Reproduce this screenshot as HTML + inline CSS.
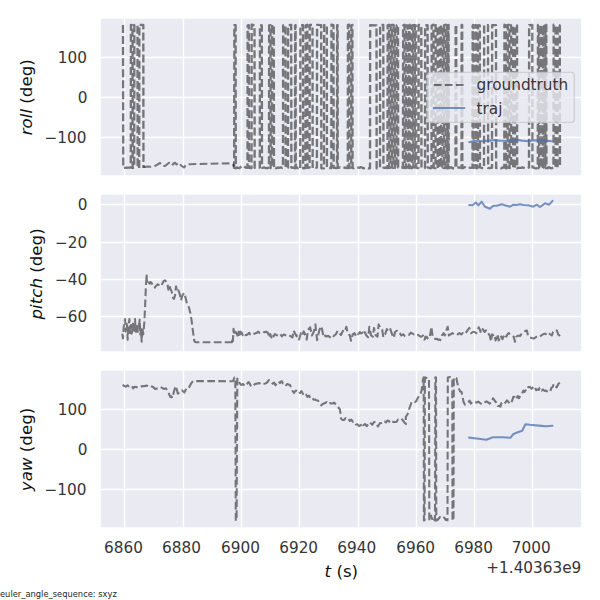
<!DOCTYPE html>
<html><head><meta charset="utf-8"><title>euler angles</title>
<style>html,body{margin:0;padding:0;background:#fff;width:600px;height:600px;overflow:hidden}svg{display:block}</style>
</head><body>
<svg width="600" height="600" viewBox="0 0 432 432" version="1.1">
 
 <defs>
  <style type="text/css">*{stroke-linejoin: round; stroke-linecap: butt}</style>
 </defs>
 <g id="figure_1">
  <g id="patch_1">
   <path d="M 0 432 
L 432 432 
L 432 0 
L 0 0 
z
" style="fill: #ffffff"/>
  </g>
  <g id="axes_1">
   <g id="patch_2">
    <path d="M 72.0000 126.7200 L 419.0400 126.7200 L 419.0400 12.9600 L 72.0000 12.9600 z" style="fill: #eaeaf2"/>
   </g>
   <g id="matplotlib.axis_1">
    <g id="xtick_1">
     <g id="line2d_1">
      <path d="M 89.6400 127.0800 L 89.6400 13.3200" clip-path="url(#p0188f3a71f)" style="fill: none; stroke: #ffffff; stroke-linecap: round"/>
     </g>
    </g>
    <g id="xtick_2">
     <g id="line2d_2">
      <path d="M 132.1200 127.0800 L 132.1200 13.3200" clip-path="url(#p0188f3a71f)" style="fill: none; stroke: #ffffff; stroke-linecap: round"/>
     </g>
    </g>
    <g id="xtick_3">
     <g id="line2d_3">
      <path d="M 173.8800 127.0800 L 173.8800 13.3200" clip-path="url(#p0188f3a71f)" style="fill: none; stroke: #ffffff; stroke-linecap: round"/>
     </g>
    </g>
    <g id="xtick_4">
     <g id="line2d_4">
      <path d="M 215.6400 127.0800 L 215.6400 13.3200" clip-path="url(#p0188f3a71f)" style="fill: none; stroke: #ffffff; stroke-linecap: round"/>
     </g>
    </g>
    <g id="xtick_5">
     <g id="line2d_5">
      <path d="M 258.1200 127.0800 L 258.1200 13.3200" clip-path="url(#p0188f3a71f)" style="fill: none; stroke: #ffffff; stroke-linecap: round"/>
     </g>
    </g>
    <g id="xtick_6">
     <g id="line2d_6">
      <path d="M 299.8800 127.0800 L 299.8800 13.3200" clip-path="url(#p0188f3a71f)" style="fill: none; stroke: #ffffff; stroke-linecap: round"/>
     </g>
    </g>
    <g id="xtick_7">
     <g id="line2d_7">
      <path d="M 341.6400 127.0800 L 341.6400 13.3200" clip-path="url(#p0188f3a71f)" style="fill: none; stroke: #ffffff; stroke-linecap: round"/>
     </g>
    </g>
    <g id="xtick_8">
     <g id="line2d_8">
      <path d="M 383.4000 127.0800 L 383.4000 13.3200" clip-path="url(#p0188f3a71f)" style="fill: none; stroke: #ffffff; stroke-linecap: round"/>
     </g>
    </g>
   </g>
   <g id="matplotlib.axis_2">
    <g id="ytick_1">
     <g id="line2d_9">
      <path d="M 72.3600 99.0000 L 419.4000 99.0000" clip-path="url(#p0188f3a71f)" style="fill: none; stroke: #ffffff; stroke-linecap: round"/>
     </g>
     <g id="text_1">
      <text style="font-size: 11px; font-family: 'DejaVu Sans', sans-serif; text-anchor: end; fill: #363636" x="62.2372" y="102.8191">−100</text>
     </g>
    </g>
    <g id="ytick_2">
     <g id="line2d_10">
      <path d="M 72.3600 70.2000 L 419.4000 70.2000" clip-path="url(#p0188f3a71f)" style="fill: none; stroke: #ffffff; stroke-linecap: round"/>
     </g>
     <g id="text_2">
      <text style="font-size: 11px; font-family: 'DejaVu Sans', sans-serif; text-anchor: end; fill: #363636" x="63.0580" y="74.0191">0</text>
     </g>
    </g>
    <g id="ytick_3">
     <g id="line2d_11">
      <path d="M 72.3600 41.4000 L 419.4000 41.4000" clip-path="url(#p0188f3a71f)" style="fill: none; stroke: #ffffff; stroke-linecap: round"/>
     </g>
     <g id="text_3">
      <text style="font-size: 11px; font-family: 'DejaVu Sans', sans-serif; text-anchor: end; fill: #363636" x="62.6404" y="45.2191">100</text>
     </g>
    </g>
    <g id="text_4">
     <!-- $roll$ (deg) -->
     <g style="fill: #262626" transform="translate(23.9985 97.4052) rotate(-90)">
      <text>
       <tspan x="0" y="-0.875" style="font-style: oblique; font-size: 12px; font-family: 'DejaVu Sans'; fill: #101010">r</tspan>
       <tspan x="4.933594" y="-0.875" style="font-style: oblique; font-size: 12px; font-family: 'DejaVu Sans'; fill: #101010">o</tspan>
       <tspan x="12.275391" y="-0.875" style="font-style: oblique; font-size: 12px; font-family: 'DejaVu Sans'; fill: #101010">l</tspan>
       <tspan x="15.609375" y="-0.875" style="font-style: oblique; font-size: 12px; font-family: 'DejaVu Sans'; fill: #101010">l</tspan>
       <tspan x="18.943359" y="-0.875" style="font-size: 12px; font-family: 'DejaVu Sans'; fill: #101010"> </tspan>
       <tspan x="22.757812" y="-0.875" style="font-size: 12px; font-family: 'DejaVu Sans'; fill: #101010">(</tspan>
       <tspan x="27.439453" y="-0.875" style="font-size: 12px; font-family: 'DejaVu Sans'; fill: #101010">d</tspan>
       <tspan x="35.056641" y="-0.875" style="font-size: 12px; font-family: 'DejaVu Sans'; fill: #101010">e</tspan>
       <tspan x="42.439453" y="-0.875" style="font-size: 12px; font-family: 'DejaVu Sans'; fill: #101010">g</tspan>
       <tspan x="50.056641" y="-0.875" style="font-size: 12px; font-family: 'DejaVu Sans'; fill: #101010">)</tspan>
      </text>
     </g>
    </g>
   </g>
   <g id="rollA">
    <path d="M 88.56 18 
L 88.776 120.888 
L 94.176 120.589667 
L 94.284 17.920403 
L 95.4 18.245534 
L 95.508 120.947157 
L 96.624 120.595773 
L 96.732 18.033481 
L 99 18.059934 
L 99.108 120.643012 
L 100.224 121.056896 
L 100.332 17.849475 
L 103.176 18.009347 
L 103.284 120.900053 
" clip-path="url(#p0188f3a71f)" style="fill: none; stroke-dasharray: 5.75,2.2; stroke-dashoffset: 0; stroke: #000000; stroke-opacity: 0.5; stroke-width: 1.7; stroke-linecap: butt"/>
   </g>
   <g id="rollB">
    <path d="M 103.32 120.024 
L 104.4 120.168 
L 105.84 119.88 
L 108 120.096 
L 109.44 119.952 
L 110.88 119.736 
L 112.32 119.16 
L 114.12 117.936 
L 115.2 117.36 
L 116.28 118.44 
L 117.36 119.52 
L 118.8 119.52 
L 120.6 118.08 
L 121.68 117.216 
L 122.976 118.44 
L 123.84 119.16 
L 124.92 117.72 
L 126 117.216 
L 127.08 118.44 
L 128.16 117.576 
L 129.24 117.36 
L 130.32 119.16 
L 131.4 119.88 
L 132.48 120.6 
L 133.56 119.16 
L 134.64 118.44 
L 136.8 118.224 
L 166.32 117.576 
L 167.76 118.44 
L 168.336 119.88 
" clip-path="url(#p0188f3a71f)" style="fill: none; stroke-dasharray: 5.55,2.4; stroke-dashoffset: 0; stroke: #000000; stroke-opacity: 0.5; stroke-width: 1.5"/>
   </g>
   <g id="rollC">
    <path d="M 168.336 119.88 
L 168.624 120.838052 
L 168.732 18.121996 
L 169.632 18.208995 
L 169.74 121.216512 
L 170.352 120.578012 
L 171.432 120.91904 
L 172.512 120.963658 
L 173.592 120.10372 
L 174.672 119.479467 
L 175.752 119.680314 
L 176.832 120.588607 
L 178.2 120.75407 
L 178.308 18.297626 
L 179.136 18.121054 
L 179.244 120.867343 
L 181.08 121.084759 
L 181.188 17.801479 
L 183.24 18.191212 
L 183.348 120.797456 
L 187.056 120.593414 
L 187.164 18.164448 
L 188.496 18.320523 
L 188.604 120.677178 
L 189.216 120.901764 
L 190.296 120.591081 
L 191.376 121.006284 
L 192.456 120.987946 
L 193.68 120.685475 
L 193.788 18.262015 
L 194.76 18.162808 
L 194.868 121.019615 
L 195.84 121.118455 
L 195.948 18.030858 
L 197.136 18.221014 
L 197.244 121.160506 
L 197.856 120.407771 
L 198.936 121.107383 
L 200.016 120.680716 
L 201.096 120.760984 
L 202.176 120.448969 
L 203.256 120.965727 
L 203.76 120.738225 
L 203.868 18.285776 
L 205.56 17.942616 
L 205.668 120.932503 
L 207.36 120.815752 
L 207.468 18.137036 
L 209.664 17.897264 
L 209.772 120.657807 
L 212.4 121.065739 
L 212.508 18.217281 
L 212.832 18.110579 
L 212.94 121.191177 
L 213.552 120.504605 
L 214.632 121.108443 
L 215.712 120.470172 
L 216.144 121.222338 
L 216.252 18.143247 
L 218.16 18.133565 
L 218.268 121.226802 
L 219.96 121.094664 
L 220.068 18.238992 
L 221.256 17.815158 
L 221.364 120.793886 
L 222.912 120.589124 
L 223.02 17.895472 
L 225 17.907187 
L 225.108 121.146222 
L 228.168 120.619264 
L 228.276 17.954932 
L 231.264 18.06788 
L 231.372 121.139611 
L 233.28 121.222967 
L 233.388 18.191891 
L 235.296 17.907084 
L 235.404 120.920388 
L 238.536 121.036291 
L 238.644 17.813884 
L 240.12 18.175613 
L 240.228 120.793163 
L 242.64 120.952584 
L 242.748 18.169651 
L 243.072 18.169417 
L 243.18 120.904596 
L 243.792 120.831234 
L 244.872 120.497468 
L 245.952 120.775495 
L 247.032 120.429383 
L 248.112 120.761979 
L 249.192 120.813925 
L 250.416 121.085355 
L 250.524 18.010751 
L 251.424 17.79529 
L 251.532 120.90798 
L 252.864 120.675767 
L 252.972 18.210964 
L 253.728 18.00789 
L 253.836 120.801941 
L 254.448 121.163249 
L 255.528 120.67982 
L 257.688 120.637746 
L 258.768 120.761997 
L 259.848 120.399321 
L 262.008 121.174456 
L 263.088 120.838895 
L 265.248 121.198524 
L 266.4 121.134323 
L 266.508 18.212548 
L 271.08 18.252382 
L 271.188 121.1185 
L 273.6 120.710704 
L 273.708 18.061611 
L 275.976 17.981405 
L 276.084 120.716448 
L 276.696 120.846972 
L 277.776 120.609541 
L 279 120.973433 
L 279.108 18.119472 
L 280.08 17.844134 
L 280.188 120.846541 
L 281.16 120.808696 
L 281.268 18.191032 
L 282.24 17.834765 
L 282.348 120.64965 
L 283.32 120.89707 
L 283.428 18.017046 
L 284.4 18.16724 
L 284.508 120.767657 
L 285.48 120.669998 
L 285.588 18.320743 
L 286.559999 17.924484 
L 286.668 120.633886 
L 287.28 120.573981 
L 288.36 120.629982 
L 289.44 120.522709 
L 290.16 120.914148 
L 290.268 18.323674 
L 291.24 17.856587 
L 291.348 120.826919 
L 292.32 121.009073 
L 292.427999 18.293596 
L 293.4 18.359887 
L 293.508 120.631419 
L 294.48 120.914854 
L 294.588 18.291572 
L 295.056 17.814545 
L 295.164 120.951571 
L 295.776 120.474781 
L 296.64 121.080838 
L 296.748 18.324075 
L 297.576 18.094054 
L 297.684 120.534456 
L 298.584 120.57426 
L 298.692 18.023444 
L 299.52 18.272047 
L 299.628 120.698472 
L 300.24 120.938313 
L 301.32 120.819822 
L 301.428 17.936729 
L 303.336 18.18944 
L 303.444 120.749945 
L 304.056 120.660081 
L 305.136 121.02833 
L 306 120.884544 
L 306.108 18.235537 
L 307.872 18.081389 
L 307.98 120.64318 
L 308.592 120.727301 
L 309.672 121.128908 
L 310.68 120.934741 
L 310.788 18.339734 
L 312.12 17.784661 
L 312.228 120.773064 
L 313.56 121.081716 
L 313.668 18.179223 
L 315 18.107124 
L 315.108 121.005895 
L 315.72 121.132339 
L 316.44 121.020157 
L 316.548 18.099204 
L 317.52 18.107982 
L 317.628 121.007791 
L 318.6 120.761217 
L 318.708 18.169595 
L 319.68 18.138245 
L 319.788 121.093856 
L 320.76 120.873762 
L 320.868 17.799557 
L 321.84 18.093267 
L 321.948 121.145536 
L 322.56 120.988814 
L 322.668 18.15464 
L 322.992 18.009187 
L 323.1 120.784731 
L 323.712 120.984897 
L 324.792 120.3848 
L 325.872 121.122987 
L 327.96 121.22096 
L 328.068 17.86215 
L 328.464 17.850457 
L 328.572 121.171696 
L 329.184 120.687453 
L 330.263999 120.565058 
L 331.344 120.669753 
L 332.28 121.002843 
L 332.388 17.87702 
L 332.784 18.064606 
L 332.892 121.003237 
L 333.504 120.986643 
L 334.584 120.323478 
L 335.664 121.070999 
L 336.744 120.718392 
L 337.824 120.719908 
L 338.904 120.83837 
L 340.2 120.729698 
L 340.308 18.294752 
L 340.92 17.90619 
L 341.028 120.918756 
L 342 120.64899 
L 342.108 18.138883 
L 343.08 18.303498 
L 343.188 121.163498 
L 344.16 120.62497 
L 344.268 18.143924 
L 345.456 18.29811 
L 345.564 120.672198 
L 346.176 120.700198 
L 347.256 120.979513 
L 348.48 121.059434 
L 348.588 18.043878 
L 351.36 18.151844 
L 351.468 121.009622 
L 354.24 120.782248 
L 354.348 18.159594 
L 357.12 18.116595 
L 357.228 121.030118 
L 357.84 120.7909 
L 358.92 120.626899 
L 360 120.7186 
L 361.08 121.175424 
L 362.16 120.487552 
L 363.096 120.634778 
L 363.204 17.791 
L 364.32 18.274836 
L 364.428 121.239827 
L 365.544 120.698256 
L 365.652 17.937272 
L 366.768 17.898262 
L 366.876 120.960139 
L 367.92 120.877278 
L 368.028 18.256652 
L 369.36 17.90479 
L 369.468 121.160114 
L 370.8 120.862045 
L 370.908 18.249331 
L 372.24 18.245998 
L 372.348 121.18374 
L 372.96 120.778889 
L 374.04 120.882589 
L 375.12 120.837125 
L 376.2 120.490123 
L 378.36 121.179316 
L 379.44 121.162729 
L 380.88 120.543483 
L 380.988 18.166093 
L 383.256 17.97222 
L 383.364 120.625876 
L 383.976 120.442516 
L 385.056 121.056084 
L 386.136 121.209779 
L 387.216 120.902573 
L 387.324 18.004908 
L 388.08 18.077695 
L 388.188 121.125091 
L 389.016 121.065655 
L 389.124 17.820933 
L 389.88 17.906417 
L 389.988 121.152747 
L 390.816 120.883018 
L 390.924 18.162851 
L 391.68 18.231853 
L 391.788 120.98635 
L 392.616 121.056404 
L 392.724 18.09829 
L 393.336 17.916093 
L 393.444 120.662708 
L 394.056 121.241952 
L 395.136 120.321835 
L 396.216 120.958694 
L 397.296 121.136292 
L 398.52 120.694614 
L 398.628 17.811959 
L 399.96 18.013966 
L 400.068 120.76557 
L 401.4 120.860344 
L 401.508 18.030192 
L 403.056 18.326606 
L 403.164 120.613915 
L 403.164 120.613915 
" clip-path="url(#p0188f3a71f)" style="fill: none; stroke-dasharray: 5.75,2.2; stroke-dashoffset: 0; stroke: #000000; stroke-opacity: 0.5; stroke-width: 1.7; stroke-linecap: butt"/>
   </g>
   <g id="line2d_12">
    <path d="M 337.824 102.384 
L 342 101.376 
L 345.6 101.664 
L 349.2 101.52 
L 352.8 101.232 
L 356.4 100.8 
L 359.28 101.232 
L 362.376 101.376 
L 367.2 101.736 
L 372.024 100.584 
L 375.84 101.232 
L 380.376 101.664 
L 385.2 101.016 
L 388.8 101.232 
L 391.176 101.16 
L 394.56 101.448 
L 397.224 101.664 
" clip-path="url(#p0188f3a71f)" style="fill: none; stroke: #4c72b0; stroke-opacity: 0.75; stroke-width: 1.5; stroke-linecap: round"/>
   </g>
   <g id="patch_3">
    <path d="M 72.0000 126.7200 L 72.0000 12.9600" style="fill: none; stroke: #ffffff; stroke-width: 1.25; stroke-linejoin: miter; stroke-linecap: square"/>
   </g>
   <g id="patch_4">
    <path d="M 419.0400 126.7200 L 419.0400 12.9600" style="fill: none; stroke: #ffffff; stroke-width: 1.25; stroke-linejoin: miter; stroke-linecap: square"/>
   </g>
   <g id="patch_5">
    <path d="M 72.0000 126.7200 L 419.0400 126.7200" style="fill: none; stroke: #ffffff; stroke-width: 1.25; stroke-linejoin: miter; stroke-linecap: square"/>
   </g>
   <g id="patch_6">
    <path d="M 72.0000 12.9600 L 419.0400 12.9600" style="fill: none; stroke: #ffffff; stroke-width: 1.25; stroke-linejoin: miter; stroke-linecap: square"/>
   </g>
   <g id="legend_1">
    <g id="patch_7">
     <path d="M 310.136562 88.0979 
L 411.34 88.0979 
Q 413.54 88.0979 413.54 85.8979 
L 413.54 54.3461 
Q 413.54 52.1461 411.34 52.1461 
L 310.136562 52.1461 
Q 307.936562 52.1461 307.936562 54.3461 
L 307.936562 85.8979 
Q 307.936562 88.0979 310.136562 88.0979 
z
" style="fill: #eaeaf2; opacity: 0.8; stroke: #cccccc; stroke-linejoin: miter"/>
    </g>
    <g id="line2d_13">
     <path d="M 312.336562 61.1983 
L 323.336562 61.1983 
L 334.336562 61.1983 
" style="fill: none; stroke-dasharray: 5.55,2.4; stroke-dashoffset: 0; stroke: #000000; stroke-opacity: 0.5; stroke-width: 1.5"/>
    </g>
    <g id="text_5">
     <text style="font-size: 11px; font-family: 'DejaVu Sans', sans-serif; text-anchor: start; fill: #363636" x="343.136562" y="64.832344" transform="rotate(-0 343.136562 64.832344)">groundtruth</text>
    </g>
    <g id="line2d_14">
     <path d="M 312.336562 77.7619 
L 323.336562 77.7619 
L 334.336562 77.7619 
" style="fill: none; stroke: #4c72b0; stroke-opacity: 0.75; stroke-width: 1.5; stroke-linecap: round"/>
    </g>
    <g id="text_6">
     <text style="font-size: 11px; font-family: 'DejaVu Sans', sans-serif; text-anchor: start; fill: #363636" x="343.1366" y="81.8135">traj</text>
    </g>
   </g>
  </g>
  <g id="axes_2">
   <g id="patch_8">
    <path d="M 72.0000 253.4400 L 419.0400 253.4400 L 419.0400 139.6800 L 72.0000 139.6800 z" style="fill: #eaeaf2"/>
   </g>
   <g id="matplotlib.axis_3">
    <g id="xtick_9">
     <g id="line2d_15">
      <path d="M 89.6400 253.8000 L 89.6400 140.0400" clip-path="url(#p8dc14f813e)" style="fill: none; stroke: #ffffff; stroke-linecap: round"/>
     </g>
    </g>
    <g id="xtick_10">
     <g id="line2d_16">
      <path d="M 132.1200 253.8000 L 132.1200 140.0400" clip-path="url(#p8dc14f813e)" style="fill: none; stroke: #ffffff; stroke-linecap: round"/>
     </g>
    </g>
    <g id="xtick_11">
     <g id="line2d_17">
      <path d="M 173.8800 253.8000 L 173.8800 140.0400" clip-path="url(#p8dc14f813e)" style="fill: none; stroke: #ffffff; stroke-linecap: round"/>
     </g>
    </g>
    <g id="xtick_12">
     <g id="line2d_18">
      <path d="M 215.6400 253.8000 L 215.6400 140.0400" clip-path="url(#p8dc14f813e)" style="fill: none; stroke: #ffffff; stroke-linecap: round"/>
     </g>
    </g>
    <g id="xtick_13">
     <g id="line2d_19">
      <path d="M 258.1200 253.8000 L 258.1200 140.0400" clip-path="url(#p8dc14f813e)" style="fill: none; stroke: #ffffff; stroke-linecap: round"/>
     </g>
    </g>
    <g id="xtick_14">
     <g id="line2d_20">
      <path d="M 299.8800 253.8000 L 299.8800 140.0400" clip-path="url(#p8dc14f813e)" style="fill: none; stroke: #ffffff; stroke-linecap: round"/>
     </g>
    </g>
    <g id="xtick_15">
     <g id="line2d_21">
      <path d="M 341.6400 253.8000 L 341.6400 140.0400" clip-path="url(#p8dc14f813e)" style="fill: none; stroke: #ffffff; stroke-linecap: round"/>
     </g>
    </g>
    <g id="xtick_16">
     <g id="line2d_22">
      <path d="M 383.4000 253.8000 L 383.4000 140.0400" clip-path="url(#p8dc14f813e)" style="fill: none; stroke: #ffffff; stroke-linecap: round"/>
     </g>
    </g>
   </g>
   <g id="matplotlib.axis_4">
    <g id="ytick_4">
     <g id="line2d_23">
      <path d="M 72.3600 227.8800 L 419.4000 227.8800" clip-path="url(#p8dc14f813e)" style="fill: none; stroke: #ffffff; stroke-linecap: round"/>
     </g>
     <g id="text_7">
      <text style="font-size: 11px; font-family: 'DejaVu Sans', sans-serif; text-anchor: end; fill: #363636" x="62.77" y="231.972741" transform="rotate(-0 62.77 231.972741)">−60</text>
     </g>
    </g>
    <g id="ytick_5">
     <g id="line2d_24">
      <path d="M 72.3600 201.2400 L 419.4000 201.2400" clip-path="url(#p8dc14f813e)" style="fill: none; stroke: #ffffff; stroke-linecap: round"/>
     </g>
     <g id="text_8">
      <text style="font-size: 11px; font-family: 'DejaVu Sans', sans-serif; text-anchor: end; fill: #363636" x="62.77" y="205.073541" transform="rotate(-0 62.77 205.073541)">−40</text>
     </g>
    </g>
    <g id="ytick_6">
     <g id="line2d_25">
      <path d="M 72.3600 174.6000 L 419.4000 174.6000" clip-path="url(#p8dc14f813e)" style="fill: none; stroke: #ffffff; stroke-linecap: round"/>
     </g>
     <g id="text_9">
      <text style="font-size: 11px; font-family: 'DejaVu Sans', sans-serif; text-anchor: end; fill: #363636" x="62.7700" y="178.8943">−20</text>
     </g>
    </g>
    <g id="ytick_7">
     <g id="line2d_26">
      <path d="M 72.3600 147.2400 L 419.4000 147.2400" clip-path="url(#p8dc14f813e)" style="fill: none; stroke: #ffffff; stroke-linecap: round"/>
     </g>
     <g id="text_10">
      <text style="font-size: 11px; font-family: 'DejaVu Sans', sans-serif; text-anchor: end; fill: #363636" x="63.0580" y="151.2751">0</text>
     </g>
    </g>
    <g id="text_11">
     <!-- $pitch$ (deg) -->
     <g style="fill: #262626" transform="translate(31.4220 230.0268) rotate(-90)">
      <text>
       <tspan x="0" y="-0.875" style="font-style: oblique; font-size: 12px; font-family: 'DejaVu Sans'; fill: #101010">p</tspan>
       <tspan x="7.617188" y="-0.875" style="font-style: oblique; font-size: 12px; font-family: 'DejaVu Sans'; fill: #101010">i</tspan>
       <tspan x="10.951172" y="-0.875" style="font-style: oblique; font-size: 12px; font-family: 'DejaVu Sans'; fill: #101010">t</tspan>
       <tspan x="15.65625" y="-0.875" style="font-style: oblique; font-size: 12px; font-family: 'DejaVu Sans'; fill: #101010">c</tspan>
       <tspan x="22.253906" y="-0.875" style="font-style: oblique; font-size: 12px; font-family: 'DejaVu Sans'; fill: #101010">h</tspan>
       <tspan x="29.859375" y="-0.875" style="font-size: 12px; font-family: 'DejaVu Sans'; fill: #101010"> </tspan>
       <tspan x="33.673828" y="-0.875" style="font-size: 12px; font-family: 'DejaVu Sans'; fill: #101010">(</tspan>
       <tspan x="38.355469" y="-0.875" style="font-size: 12px; font-family: 'DejaVu Sans'; fill: #101010">d</tspan>
       <tspan x="45.972656" y="-0.875" style="font-size: 12px; font-family: 'DejaVu Sans'; fill: #101010">e</tspan>
       <tspan x="53.355469" y="-0.875" style="font-size: 12px; font-family: 'DejaVu Sans'; fill: #101010">g</tspan>
       <tspan x="60.972656" y="-0.875" style="font-size: 12px; font-family: 'DejaVu Sans'; fill: #101010">)</tspan>
      </text>
     </g>
    </g>
   </g>
   <g id="line2d_27">
    <path d="M 88.08 240.24 
L 88.56 243.6 
L 89.04 235.92 
L 90 229.68 
L 90.48 238.8 
L 91.152 233.04 
L 91.44 234.48 
L 91.92 244.56 
L 92.4 235.92 
L 93.168 229.68 
L 93.552 239.76 
L 93.936 234.48 
L 94.32 234 
L 94.704 240.24 
L 95.088 238.8 
L 95.76 233.04 
L 96.048 239.28 
L 96.432 238.8 
L 97.2 229.68 
L 97.68 238.8 
L 97.968 233.52 
L 98.352 234.96 
L 98.927999 240.72 
L 99.408 234 
L 99.888 235.92 
L 100.56 230.16 
L 101.04 240.72 
L 101.52 236.88 
L 102 246 
L 102.48 235.92 
L 103.152 240.72 
L 103.92 232.08 
L 104.4 222.48 
L 104.88 210 
L 105.552 197.52 
L 105.84 203.28 
L 106.32 201.84 
L 107.376 203.76 
L 107.952 204.24 
L 108.528 203.088 
L 109.2 203.76 
L 109.872 205.2 
L 110.64 205.2 
L 111.6 207.12 
L 112.08 205.968 
L 112.56 205.68 
L 113.52 204.72 
L 114.288 205.2 
L 114.96 206.16 
L 116.4 205.2 
L 117.84 202.32 
L 118.8 201.84 
L 119.76 202.8 
L 120.24 203.76 
L 120.72 205.2 
L 121.2 208.56 
L 121.968 205.2 
L 122.64 207.6 
L 123.6 210 
L 124.56 214.32 
L 125.232 215.28 
L 126 212.88 
L 126.768 206.16 
L 127.44 210 
L 128.4 209.04 
L 129.36 211.44 
L 130.32 216.24 
L 131.28 212.88 
L 132.24 211.44 
L 132.72 210.96 
L 134.64 218.64 
L 136.08 221.52 
L 137.04 225.36 
L 138 231.12 
L 138.96 238.8 
L 139.92 245.52 
L 140.76 246.384 
L 167.04 246.384 
L 165.6 245.1024 
L 167.7024 245.52 
L 168.12 236.7 
L 168.5376 241.3224 
L 169.38 238.8024 
L 170.2224 239.6448 
L 171.482399 243 
L 171.9 238.8024 
L 172.7424 242.5824 
L 173.16 238.8024 
L 174.0024 239.6448 
L 174.8448 241.3224 
L 175.68 240.0624 
L 176.94 241.3224 
L 178.2 240.9048 
L 179.46 239.6448 
L 180.3024 240.9048 
L 181.5624 241.3224 
L 182.4048 240.48 
L 184.9248 239.6448 
L 185.76 238.8024 
L 187.02 239.6448 
L 189.5472 238.8024 
L 190.3824 239.22 
L 191.6424 238.8024 
L 192.9024 239.6448 
L 193.7448 243 
L 194.5872 240.48 
L 195.4224 243 
L 196.2648 240.48 
L 197.1072 242.1648 
L 197.9424 240.48 
L 199.2024 241.3224 
L 200.4624 241.74 
L 201.7296 240.48 
L 202.9896 242.1648 
L 204.2496 240.9048 
L 206.7696 241.74 
L 208.0296 241.3224 
L 210.5496 243 
L 211.3848 237.96 
L 213.4872 242.1648 
L 214.0776 241.56 
L 215.3376 244.5048 
L 216.5976 239.8824 
L 217.44 241.56 
L 218.7 238.6224 
L 219.96 241.56 
L 220.8024 244.5048 
L 221.6448 238.2048 
L 222.527447 236.466119 
L 223.3224 235.6776 
L 224.5824 241.56 
L 225.8424 239.04 
L 227.1024 233.5824 
L 227.52 238.2048 
L 228.3624 244.9224 
L 229.2048 240.7248 
L 230.04 237.3624 
L 231.3 234.8424 
L 232.1424 238.2048 
L 232.9848 242.82 
L 234.2448 241.56 
L 234.931504 242.204037 
L 235.9224 241.9848 
L 236.579222 242.029212 
L 237.6072 242.82 
L 239.2848 243.6624 
L 240.5448 241.56 
L 241.8048 240.7248 
L 243.0648 238.2048 
L 244.3248 239.8824 
L 245.5848 241.1424 
L 246.8448 238.2048 
L 248.1048 239.04 
L 249.3648 235.26 
L 250.2072 239.4648 
L 251.8848 241.56 
L 252.7272 245.34 
L 253.9872 240.7248 
L 255.2472 239.8824 
L 256.5072 242.4024 
L 257.7672 240.7248 
L 259.2 239.04 
L 259.4448 239.8824 
L 260.46 239.8824 
L 261.1296 239.4648 
L 261.72 240.7248 
L 262.5624 239.04 
L 263.8224 241.56 
L 265.0824 242.82 
L 265.9176 235.26 
L 267.1848 241.56 
L 268.4448 242.4024 
L 269.28 236.1024 
L 270.54 241.56 
L 271.8 242.4024 
L 272.6424 233.5824 
L 273.9024 236.52 
L 275.1624 237.3624 
L 276.0048 242.82 
L 277.2648 240.7248 
L 278.5248 236.9448 
L 279.7848 238.6224 
L 281.0448 236.9448 
L 282.3048 240.7248 
L 283.5648 243.2448 
L 284.4072 239.04 
L 285.316348 238.395911 
L 286.0848 238.2048 
L 286.767202 239.333944 
L 287.7624 239.8824 
L 289.0224 241.56 
L 290.2824 240.7248 
L 291.5424 241.9848 
L 293.718396 241.363681 
L 294.4872 241.1424 
L 295.7472 239.4648 
L 297.8496 240.7248 
L 298.896154 240.844546 
L 299.5272 241.56 
L 301.2048 241.1424 
L 301.983815 241.864728 
L 302.8896 242.4024 
L 303.61405 242.28582 
L 304.5672 241.56 
L 305.4096 244.5048 
L 306 244.08 
L 306.2448 242.4024 
L 307.26 242.4024 
L 307.5048 243.2448 
L 308.52 244.08 
L 309.78 240.7248 
L 310.6224 235.26 
L 311.4576 242.4024 
L 312.3 243.6624 
L 313.56 244.08 
L 314.561088 243.91819 
L 315.2448 244.5048 
L 316.069376 244.488962 
L 316.9224 244.9224 
L 318.1824 241.56 
L 319.4424 239.8824 
L 320.2848 241.56 
L 321.5448 237.3624 
L 322.38 235.26 
L 323.2224 241.56 
L 325.7424 239.8824 
L 327.0024 240.7248 
L 328.2624 240.3 
L 329.5224 240.7248 
L 330.7824 239.8824 
L 332.0424 240.7248 
L 333.3024 239.8824 
L 334.5624 240.7248 
L 337.9248 236.1024 
L 339.1848 239.8824 
L 340.4448 239.04 
L 341.7048 239.04 
L 342.9648 239.8824 
L 344.6496 235.6776 
L 345.4848 237.3624 
L 346.327199 239.8824 
L 347.5872 236.9448 
L 348.8472 239.04 
L 350.1072 237.78 
L 351.3672 239.8824 
L 352.6272 241.56 
L 353.4696 245.7648 
L 354.3048 240.7248 
L 354.6 241.56 
L 355.9536 240.66 
L 356.8464 245.16 
L 358.2 240.66 
L 359.1 245.16 
L 360.4464 241.56 
L 361.8 244.26 
L 363.1536 240.66 
L 364.5 242.46 
L 365.369738 240.754873 
L 366.3 239.76 
L 367.2 241.1136 
L 368.5536 241.56 
L 369.9 242.46 
L 370.8 246.06 
L 371.7 242.46 
L 373.0464 241.56 
L 374.4 242.0064 
L 375.374892 240.583034 
L 376.2 239.76 
L 378.627018 238.124885 
L 379.3536 237.96 
L 380.2464 242.0064 
L 381.6 242.9136 
L 384.3 243.8064 
L 387 242.0064 
L 388.3536 242.46 
L 391.0464 240.66 
L 392.4 240.2064 
L 393.7536 241.1136 
L 395.1 239.76 
L 396 240.66 
L 397.3536 241.56 
L 398.2464 238.86 
L 399.6 237.5136 
L 400.9536 237.96 
L 401.8464 240.66 
L 402.7536 241.56 
L 403.6464 243.36 
L 403.6464 243.36 
" clip-path="url(#p8dc14f813e)" style="fill: none; stroke-dasharray: 5.55,2.4; stroke-dashoffset: 0; stroke: #000000; stroke-opacity: 0.5; stroke-width: 1.5"/>
   </g>
   <g id="line2d_28">
    <path d="M 337.824 147.6 
L 340.2 147.816 
L 342.576 145.8 
L 344.376 147.816 
L 346.824 145.224 
L 349.2 148.824 
L 352.8 150.264 
L 355.176 148.176 
L 357.624 148.176 
L 361.224 147.024 
L 364.176 147.96 
L 367.2 148.824 
L 369.576 147.384 
L 371.88 147.6 
L 374.4 147.024 
L 376.776 147.6 
L 380.376 147.816 
L 383.976 148.824 
L 386.424 147.384 
L 388.8 149.04 
L 392.4 146.376 
L 395.424 147.384 
L 397.8 144.576 
" clip-path="url(#p8dc14f813e)" style="fill: none; stroke: #4c72b0; stroke-opacity: 0.75; stroke-width: 1.5; stroke-linecap: round"/>
   </g>
   <g id="patch_9">
    <path d="M 72.0000 253.4400 L 72.0000 139.6800" style="fill: none; stroke: #ffffff; stroke-width: 1.25; stroke-linejoin: miter; stroke-linecap: square"/>
   </g>
   <g id="patch_10">
    <path d="M 419.0400 253.4400 L 419.0400 139.6800" style="fill: none; stroke: #ffffff; stroke-width: 1.25; stroke-linejoin: miter; stroke-linecap: square"/>
   </g>
   <g id="patch_11">
    <path d="M 72.0000 253.4400 L 419.0400 253.4400" style="fill: none; stroke: #ffffff; stroke-width: 1.25; stroke-linejoin: miter; stroke-linecap: square"/>
   </g>
   <g id="patch_12">
    <path d="M 72.0000 139.6800 L 419.0400 139.6800" style="fill: none; stroke: #ffffff; stroke-width: 1.25; stroke-linejoin: miter; stroke-linecap: square"/>
   </g>
  </g>
  <g id="axes_3">
   <g id="patch_13">
    <path d="M 72.0000 380.1600 L 419.0400 380.1600 L 419.0400 266.4000 L 72.0000 266.4000 z" style="fill: #eaeaf2"/>
   </g>
   <g id="matplotlib.axis_5">
    <g id="xtick_17">
     <g id="line2d_29">
      <path d="M 89.6400 380.5200 L 89.6400 266.7600" clip-path="url(#p870cc4f2dc)" style="fill: none; stroke: #ffffff; stroke-linecap: round"/>
     </g>
     <g id="text_12">
      <text style="font-size: 11px; font-family: 'DejaVu Sans', sans-serif; text-anchor: middle; fill: #363636" x="88.9200" y="398.1983">6860</text>
     </g>
    </g>
    <g id="xtick_18">
     <g id="line2d_30">
      <path d="M 132.1200 380.5200 L 132.1200 266.7600" clip-path="url(#p870cc4f2dc)" style="fill: none; stroke: #ffffff; stroke-linecap: round"/>
     </g>
     <g id="text_13">
      <text style="font-size: 11px; font-family: 'DejaVu Sans', sans-serif; text-anchor: middle; fill: #363636" x="130.6409" y="398.1983">6880</text>
     </g>
    </g>
    <g id="xtick_19">
     <g id="line2d_31">
      <path d="M 173.8800 380.5200 L 173.8800 266.7600" clip-path="url(#p870cc4f2dc)" style="fill: none; stroke: #ffffff; stroke-linecap: round"/>
     </g>
     <g id="text_14">
      <text style="font-size: 11px; font-family: 'DejaVu Sans', sans-serif; text-anchor: middle; fill: #363636" x="173.1970" y="398.1983">6900</text>
     </g>
    </g>
    <g id="xtick_20">
     <g id="line2d_32">
      <path d="M 215.6400 380.5200 L 215.6400 266.7600" clip-path="url(#p870cc4f2dc)" style="fill: none; stroke: #ffffff; stroke-linecap: round"/>
     </g>
     <g id="text_15">
      <text style="font-size: 11px; font-family: 'DejaVu Sans', sans-serif; text-anchor: middle; fill: #363636" x="215.0475" y="398.1983">6920</text>
     </g>
    </g>
    <g id="xtick_21">
     <g id="line2d_33">
      <path d="M 258.1200 380.5200 L 258.1200 266.7600" clip-path="url(#p870cc4f2dc)" style="fill: none; stroke: #ffffff; stroke-linecap: round"/>
     </g>
     <g id="text_16">
      <text style="font-size: 11px; font-family: 'DejaVu Sans', sans-serif; text-anchor: middle; fill: #363636" x="256.8333" y="398.1983">6940</text>
     </g>
    </g>
    <g id="xtick_22">
     <g id="line2d_34">
      <path d="M 299.8800 380.5200 L 299.8800 266.7600" clip-path="url(#p870cc4f2dc)" style="fill: none; stroke: #ffffff; stroke-linecap: round"/>
     </g>
     <g id="text_17">
      <text style="font-size: 11px; font-family: 'DejaVu Sans', sans-serif; text-anchor: middle; fill: #363636" x="299.2598" y="398.1983">6960</text>
     </g>
    </g>
    <g id="xtick_23">
     <g id="line2d_35">
      <path d="M 341.6400 380.5200 L 341.6400 266.7600" clip-path="url(#p870cc4f2dc)" style="fill: none; stroke: #ffffff; stroke-linecap: round"/>
     </g>
     <g id="text_18">
      <text style="font-size: 11px; font-family: 'DejaVu Sans', sans-serif; text-anchor: middle; fill: #363636" x="340.9951" y="398.1983">6980</text>
     </g>
    </g>
    <g id="xtick_24">
     <g id="line2d_36">
      <path d="M 383.4000 380.5200 L 383.4000 266.7600" clip-path="url(#p870cc4f2dc)" style="fill: none; stroke: #ffffff; stroke-linecap: round"/>
     </g>
     <g id="text_19">
      <text style="font-size: 11px; font-family: 'DejaVu Sans', sans-serif; text-anchor: middle; fill: #363636" x="382.4568" y="398.1983">7000</text>
     </g>
    </g>
    <g id="text_20">
     <!-- $t$ (s) -->
     <g style="fill: #262626" transform="translate(233.6934 416.4193)">
      <text>
       <tspan x="0" y="-0.890625" style="font-style: oblique; font-size: 12px; font-family: 'DejaVu Sans'; fill: #101010">t</tspan>
       <tspan x="4.705078" y="-0.890625" style="font-size: 12px; font-family: 'DejaVu Sans'; fill: #101010"> </tspan>
       <tspan x="8.519531" y="-0.890625" style="font-size: 12px; font-family: 'DejaVu Sans'; fill: #101010">(</tspan>
       <tspan x="13.201172" y="-0.890625" style="font-size: 12px; font-family: 'DejaVu Sans'; fill: #101010">s</tspan>
       <tspan x="19.453125" y="-0.890625" style="font-size: 12px; font-family: 'DejaVu Sans'; fill: #101010">)</tspan>
      </text>
     </g>
    </g>
    <g id="text_21">
     <text style="font-size: 11px; font-family: 'DejaVu Sans', sans-serif; text-anchor: end; fill: #363636" x="418.5504" y="412.5570">+1.40363e9</text>
    </g>
   </g>
   <g id="matplotlib.axis_6">
    <g id="ytick_8">
     <g id="line2d_37">
      <path d="M 72.3600 352.4400 L 419.4000 352.4400" clip-path="url(#p870cc4f2dc)" style="fill: none; stroke: #ffffff; stroke-linecap: round"/>
     </g>
     <g id="text_22">
      <text style="font-size: 11px; font-family: 'DejaVu Sans', sans-serif; text-anchor: end; fill: #363636" x="62.2372" y="356.4751">−100</text>
     </g>
    </g>
    <g id="ytick_9">
     <g id="line2d_38">
      <path d="M 72.3600 323.6400 L 419.4000 323.6400" clip-path="url(#p870cc4f2dc)" style="fill: none; stroke: #ffffff; stroke-linecap: round"/>
     </g>
     <g id="text_23">
      <text style="font-size: 11px; font-family: 'DejaVu Sans', sans-serif; text-anchor: end; fill: #363636" x="63.0580" y="327.6751">0</text>
     </g>
    </g>
    <g id="ytick_10">
     <g id="line2d_39">
      <path d="M 72.3600 294.8400 L 419.4000 294.8400" clip-path="url(#p870cc4f2dc)" style="fill: none; stroke: #ffffff; stroke-linecap: round"/>
     </g>
     <g id="text_24">
      <text style="font-size: 11px; font-family: 'DejaVu Sans', sans-serif; text-anchor: end; fill: #363636" x="62.6404" y="298.8751">100</text>
     </g>
    </g>
    <g id="text_25">
     <!-- $yaw$ (deg) -->
     <g style="fill: #262626" transform="translate(24.1785 353.6556) rotate(-90)">
      <text>
       <tspan x="0" y="-0.875" style="font-style: oblique; font-size: 12px; font-family: 'DejaVu Sans'; fill: #101010">y</tspan>
       <tspan x="7.101562" y="-0.875" style="font-style: oblique; font-size: 12px; font-family: 'DejaVu Sans'; fill: #101010">a</tspan>
       <tspan x="14.455078" y="-0.875" style="font-style: oblique; font-size: 12px; font-family: 'DejaVu Sans'; fill: #101010">w</tspan>
       <tspan x="24.269531" y="-0.875" style="font-size: 12px; font-family: 'DejaVu Sans'; fill: #101010"> </tspan>
       <tspan x="28.083984" y="-0.875" style="font-size: 12px; font-family: 'DejaVu Sans'; fill: #101010">(</tspan>
       <tspan x="32.765625" y="-0.875" style="font-size: 12px; font-family: 'DejaVu Sans'; fill: #101010">d</tspan>
       <tspan x="40.382812" y="-0.875" style="font-size: 12px; font-family: 'DejaVu Sans'; fill: #101010">e</tspan>
       <tspan x="47.765625" y="-0.875" style="font-size: 12px; font-family: 'DejaVu Sans'; fill: #101010">g</tspan>
       <tspan x="55.382812" y="-0.875" style="font-size: 12px; font-family: 'DejaVu Sans'; fill: #101010">)</tspan>
      </text>
     </g>
    </g>
   </g>
   <g id="line2d_40">
    <path d="M 88.2576 277.2 
L 90.5976 278.4456 
L 91.8504 277.5096 
L 92.7864 278.136 
L 93.7224 277.5096 
L 94.968 278.136 
L 95.958041 279.663571 
L 96.84 278.4456 
L 99.9648 279.072 
L 102.3048 277.9776 
L 103.86 278.136 
L 105.4224 277.5096 
L 107.7624 278.7624 
L 109.008 278.2944 
L 110.1024 278.4456 
L 111.6648 280.008 
L 114.0048 279.54 
L 115.2504 278.7624 
L 116.3448 279.072 
L 117.9 280.008 
L 119.4624 279.54 
L 121.0248 281.88 
L 122.58 285.7824 
L 123.3648 285.3144 
L 124.1424 286.56 
L 125.2368 281.88 
L 126.4824 277.9776 
L 127.2672 280.3176 
L 128.0448 283.4424 
L 129.6072 282.6648 
L 131.1624 281.1024 
L 132.7248 282.6648 
L 134.2872 279.54 
L 135.8424 279.54 
L 137.4048 276.4224 
L 138.9672 274.392 
L 167.76 274.464 
L 168.84 271.8 
L 169.416 272.16 
L 169.776 374.976 
L 170.352 374.4 
L 170.856 272.52 
L 171.936 275.04 
L 173.52 277.2 
L 174.96 276.48 
L 176.4 277.92 
L 177.84 276.48 
L 178.859097 275.170316 
L 179.64 275.76 
L 180.453672 277.591001 
L 181.44 276.84 
L 182.306274 277.770165 
L 183.6 276.48 
L 184.808334 276.189183 
L 185.76 276.12 
L 186.75491 275.714239 
L 187.92 276.84 
L 188.894104 276.398184 
L 190.08 276.336 
L 191.161965 276.052887 
L 192.24 275.4 
L 193.68 273.6 
L 196.414056 276.23144 
L 197.28 275.4 
L 198.412781 277.269846 
L 199.44 275.76 
L 200.397013 274.585693 
L 201.6 275.76 
L 202.728617 274.363864 
L 203.76 276.12 
L 204.519414 276.291456 
L 205.665401 277.801732 
L 206.64 276.48 
L 208.8 277.2 
L 210.24 280.8 
L 211.68 282.96 
L 212.518649 281.727412 
L 213.149095 281.176942 
L 214.2 281.88 
L 215.182958 281.385297 
L 216 282.96 
L 217.02364 281.604906 
L 218.16 283.68 
L 219.38258 282.665817 
L 220.32 284.04 
L 221.299603 285.714428 
L 222.48 284.76 
L 223.56423 286.679751 
L 224.64 286.2 
L 225.780358 287.75556 
L 226.8 287.64 
L 227.703526 288.142193 
L 228.96 288.36 
L 231.363358 291.803349 
L 232.260066 290.859324 
L 234.049597 290.203656 
L 235.123552 289.45509 
L 236.16 290.736 
L 237.376658 290.211366 
L 238.32 290.52 
L 239.606819 290.471011 
L 240.48 289.8 
L 241.92 291.24 
L 244.8 294.84 
L 245.52 301.32 
L 246.645384 302.336916 
L 247.68 302.4 
L 248.836226 301.013123 
L 249.84 302.04 
L 250.894215 301.679933 
L 252 303.12 
L 253.037879 302.086209 
L 254.16 303.84 
L 255.442101 303.755054 
L 256.32 305.64 
L 257.474203 305.490252 
L 258.48 306.72 
L 259.721601 306.200614 
L 260.64 304.56 
L 261.560858 306.112577 
L 262.8 305.28 
L 264.072217 306.855936 
L 266.070118 304.05471 
L 267.12 304.92 
L 268.067144 305.858842 
L 269.28 303.84 
L 270.382605 303.815989 
L 271.44 306 
L 272.16 307.08 
L 273.6 304.56 
L 274.845912 304.509272 
L 275.76 303.48 
L 276.870108 303.412451 
L 277.92 304.2 
L 278.961533 302.759675 
L 280.08 303.12 
L 280.960441 304.600212 
L 282.24 303.48 
L 283.306059 303.824627 
L 285.403175 303.808579 
L 286.559999 302.04 
L 287.434885 301.958272 
L 288.72 302.76 
L 289.597111 301.996715 
L 290.88 303.84 
L 292.32 305.28 
L 292.104 300.24 
L 293.544 298.08 
L 294.984 293.256 
L 296.424 289.44 
L 297.576 289.08 
L 298.8 289.44 
L 299.793808 288.857221 
L 300.352991 287.266046 
L 301.176 286.056 
L 302.153054 283.765592 
L 302.847006 283.186813 
L 303.624 280.8 
L 304.559999 273.096 
L 305.064 271.656 
L 305.208 374.76 
L 305.712 374.616 
L 305.928 271.8 
L 308.88 272.52 
L 309.096 374.76 
L 309.6 372.24 
L 310.32 371.16 
L 311.04 373.68 
L 311.76 371.88 
L 312.84 374.4 
L 313.2 374.76 
L 313.416 271.656 
L 313.92 271.8 
L 314.136 374.76 
L 315.36 374.04 
L 316.8 372.24 
L 318.24 373.32 
L 319.68 372.6 
L 321.12 374.4 
L 322.2 374.616 
L 322.416 271.8 
L 324 271.44 
L 324.765539 271.866004 
L 325.656 272.16 
L 325.8 374.76 
L 326.52 374.616 
L 326.736 271.8 
L 327.6 271.872 
L 328.536 272.16 
L 329.976 278.856 
L 331.242587 281.854124 
L 332.28 282.024 
L 333.864 289.8 
L 334.745259 291.297897 
L 336.96 289.8 
L 338.126148 288.424657 
L 338.988966 290.649526 
L 340.056 289.44 
L 340.902165 290.003964 
L 342.294586 289.72494 
L 343.224 289.8 
L 344.353567 289.11852 
L 345.157761 289.854967 
L 346.32 290.592 
L 347.213503 289.675988 
L 348.57759 290.077438 
L 349.416 289.44 
L 350.402909 289.034389 
L 352.584 290.592 
L 353.58353 289.349646 
L 354.177144 289.370444 
L 354.96 286.704 
L 356.216876 288.530736 
L 357.264 289.8 
L 358.384313 292.295017 
L 359.568 292.176 
L 360.321831 292.845057 
L 360.965685 290.350069 
L 361.944 289.8 
L 362.98443 290.830442 
L 363.900432 289.801671 
L 365.04 288.216 
L 366.148236 289.494249 
L 367.159997 290.901714 
L 368.136 289.8 
L 368.855719 288.15244 
L 369.591658 285.655233 
L 370.512 285.912 
L 371.443976 287.611845 
L 372.770953 285.100474 
L 373.68 286.704 
L 374.756832 284.808103 
L 375.784904 283.606454 
L 376.776 281.232 
L 377.664477 282.232429 
L 378.705243 280.486717 
L 379.750417 278.357522 
L 380.664 278.856 
L 381.506726 278.550202 
L 382.842061 279.945407 
L 383.76 278.856 
L 384.891355 278.047236 
L 386.002569 280.955838 
L 386.856 280.44 
L 387.811162 280.718539 
L 388.619555 279.26923 
L 389.029085 279.375865 
L 390.024 281.232 
L 390.949196 280.363057 
L 391.953001 281.463745 
L 393.12 281.232 
L 393.952842 281.80838 
L 395.039717 282.374732 
L 396.216 282.024 
L 396.801105 279.521331 
L 397.989364 278.460698 
L 398.592 276.48 
L 399.878606 278.214138 
L 400.896 278.856 
L 402.095844 276.240969 
L 403.2 275.76 
L 403.2 275.76 
" clip-path="url(#p870cc4f2dc)" style="fill: none; stroke-dasharray: 5.55,2.4; stroke-dashoffset: 0; stroke: #000000; stroke-opacity: 0.5; stroke-width: 1.5"/>
   </g>
   <g id="line2d_41">
    <path d="M 337.752 315.072 
L 343.224 315.72 
L 350.208 316.656 
L 354.888 314.784 
L 361.944 314.784 
L 367.416 315.216 
L 369.72 312.48 
L 372.816 311.184 
L 375.984 310.104 
L 378.288 305.424 
L 381.456 305.856 
L 390.024 306.648 
L 393.12 306.936 
L 397.8 306.504 
" clip-path="url(#p870cc4f2dc)" style="fill: none; stroke: #4c72b0; stroke-opacity: 0.75; stroke-width: 1.5; stroke-linecap: round"/>
   </g>
   <g id="patch_14">
    <path d="M 72.0000 380.1600 L 72.0000 266.4000" style="fill: none; stroke: #ffffff; stroke-width: 1.25; stroke-linejoin: miter; stroke-linecap: square"/>
   </g>
   <g id="patch_15">
    <path d="M 419.0400 380.1600 L 419.0400 266.4000" style="fill: none; stroke: #ffffff; stroke-width: 1.25; stroke-linejoin: miter; stroke-linecap: square"/>
   </g>
   <g id="patch_16">
    <path d="M 72.0000 380.1600 L 419.0400 380.1600" style="fill: none; stroke: #ffffff; stroke-width: 1.25; stroke-linejoin: miter; stroke-linecap: square"/>
   </g>
   <g id="patch_17">
    <path d="M 72.0000 266.4000 L 419.0400 266.4000" style="fill: none; stroke: #ffffff; stroke-width: 1.25; stroke-linejoin: miter; stroke-linecap: square"/>
   </g>
  </g>
  <g id="text_26">
   <text style="font-size: 6px; font-family: 'DejaVu Sans', sans-serif; text-anchor: start; fill: #262626" x="0" y="429.84" transform="rotate(-0 0 429.84)">euler_angle_sequence: sxyz</text>
  </g>
 </g>
 <defs>
  <clipPath id="p0188f3a71f">
   <rect x="72.27" y="12.96" width="346.77" height="113.82"/>
  </clipPath>
  <clipPath id="p8dc14f813e">
   <rect x="72.27" y="139.74" width="346.77" height="113.82"/>
  </clipPath>
  <clipPath id="p870cc4f2dc">
   <rect x="72.27" y="266.52" width="346.77" height="113.82"/>
  </clipPath>
 </defs>
</svg>

</body></html>
